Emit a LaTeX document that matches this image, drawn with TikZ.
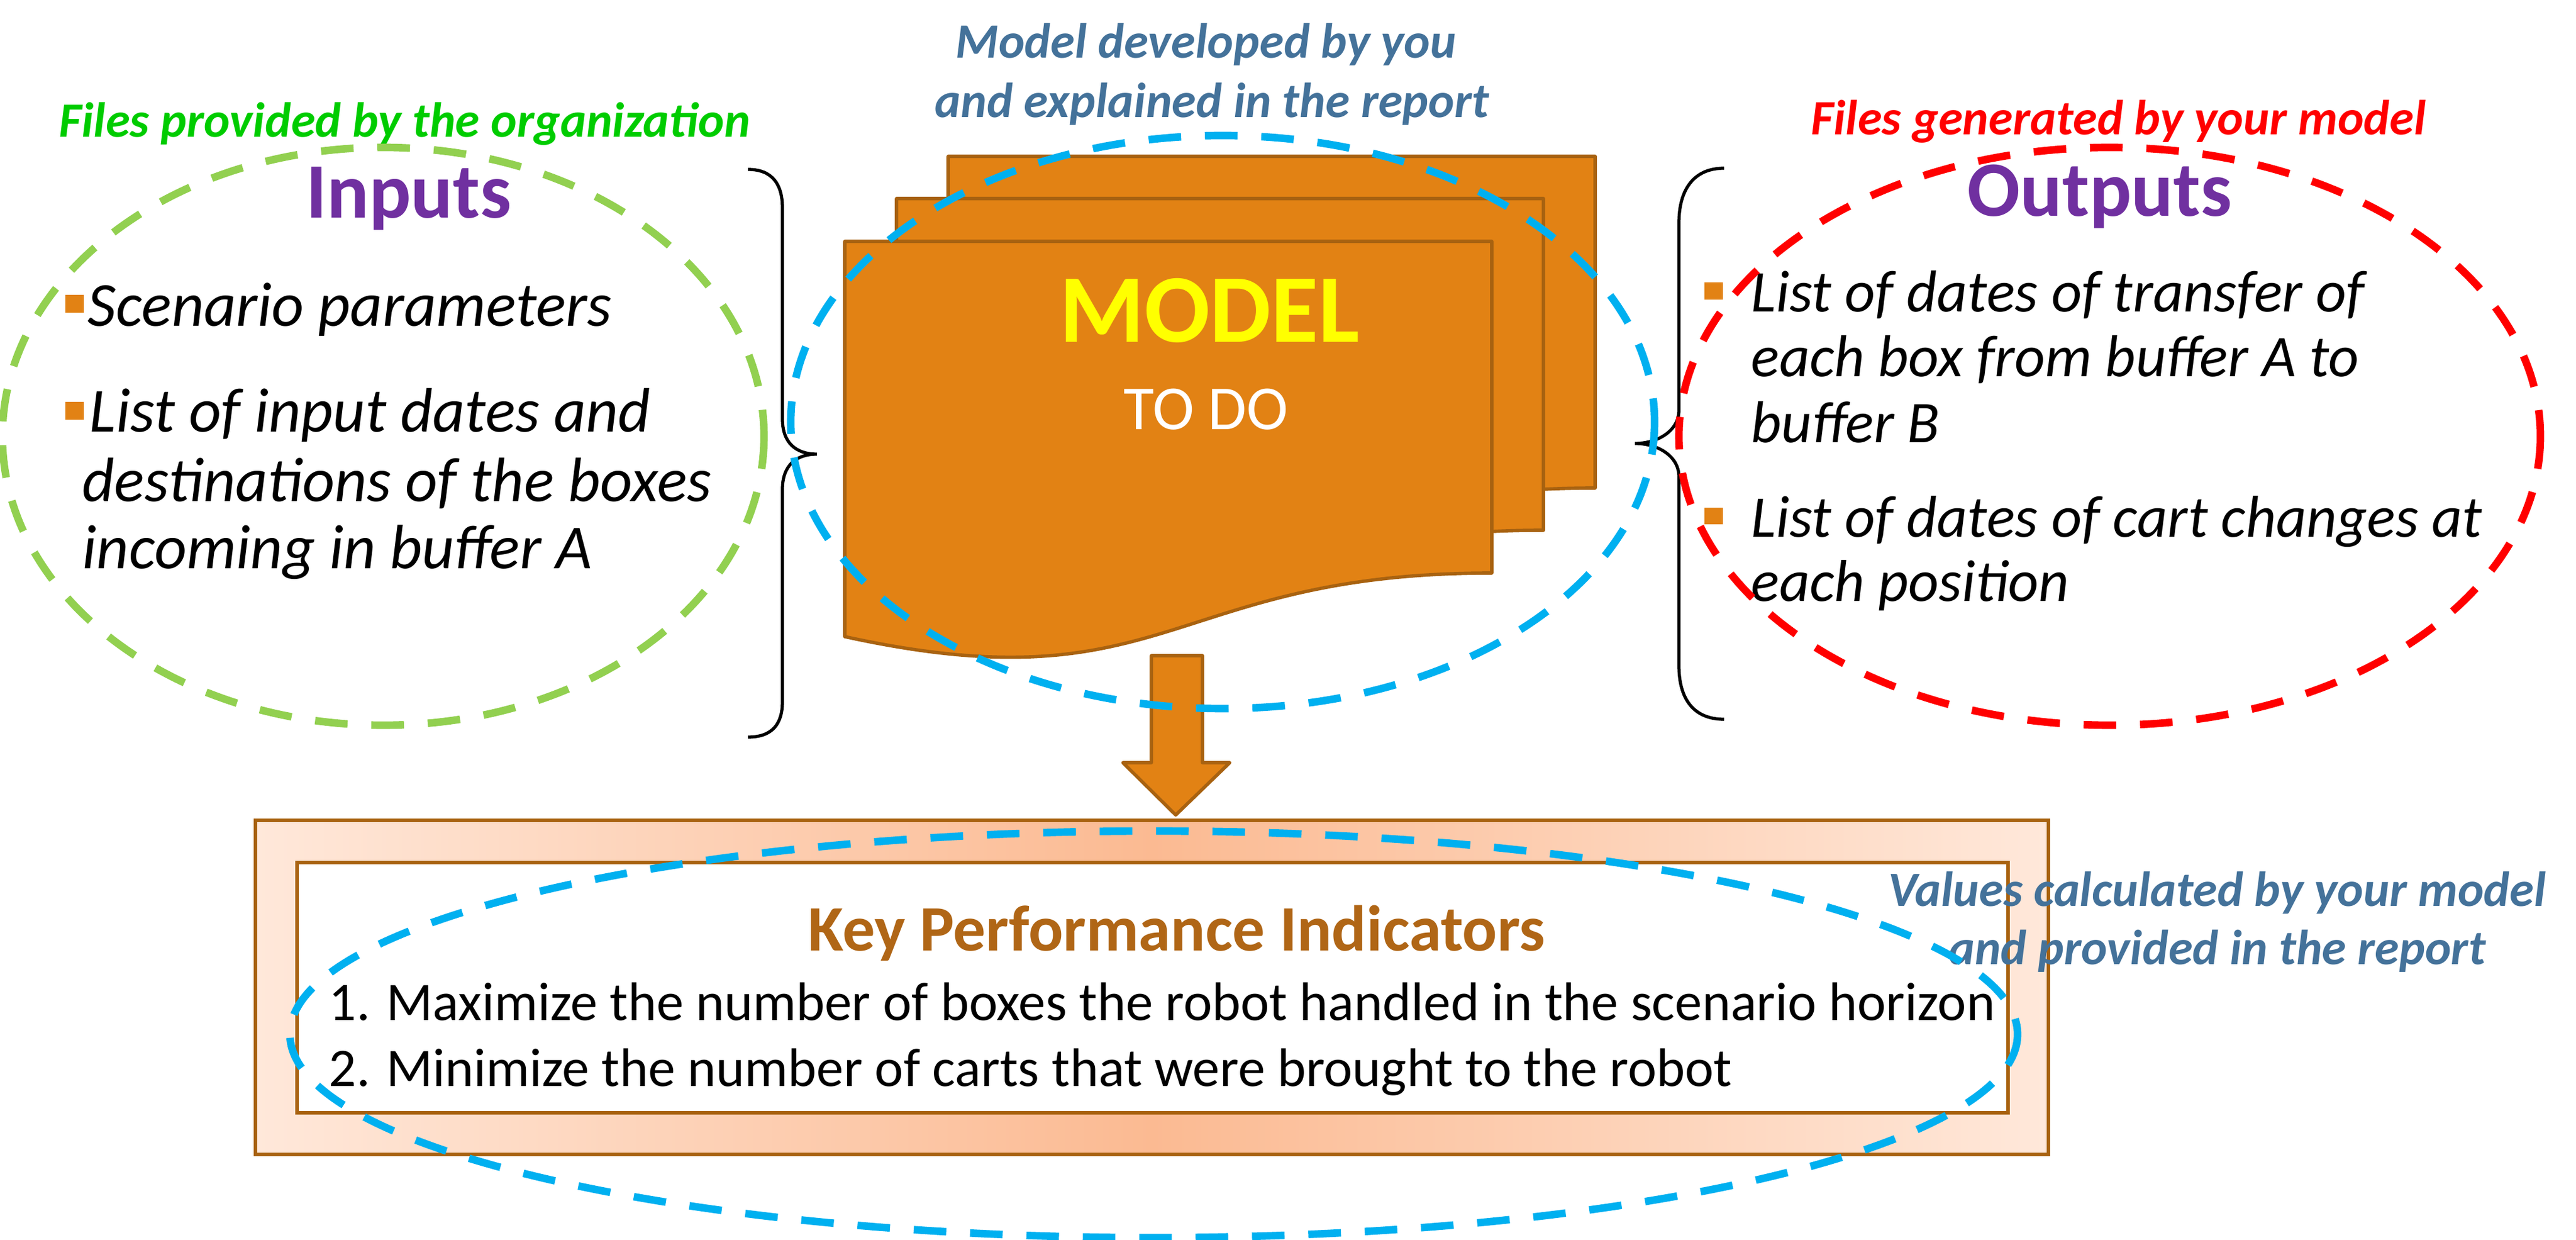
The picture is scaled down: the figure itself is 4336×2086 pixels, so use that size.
\documentclass[tikz,border=0pt]{standalone}
\usepackage{fontspec}
\setmainfont{Carlito}
\definecolor{orfill}{RGB}{226,130,20}
\definecolor{orline}{RGB}{168,98,16}
\definecolor{kpibrown}{RGB}{176,102,22}
\definecolor{ingreen}{RGB}{0,204,0}
\definecolor{elgreen}{RGB}{146,208,80}
\definecolor{elblue}{RGB}{0,176,240}
\definecolor{elred}{RGB}{255,0,0}
\definecolor{titpurple}{RGB}{112,48,160}
\definecolor{steel}{RGB}{68,114,154}
\definecolor{peachedge}{RGB}{255,232,218}
\definecolor{peachmid}{RGB}{251,186,146}
\newcommand{\fs}[1]{\fontsize{#1}{1.2\dimexpr#1pt\relax}\selectfont}
\tikzset{
  dashell/.style={line width=3.6pt, dash pattern=on 15.6pt off 11.4pt},
  page/.style={fill=orfill, draw=orline, line width=1.6pt, line join=round},
  note/.style={font=\fs{23.6}\bfseries\itshape, inner sep=0pt, anchor=base},
  heading/.style={font=\fs{37.5}\bfseries, text=titpurple, inner sep=0pt, anchor=base},
  intext/.style={font=\fs{30}\itshape, inner sep=0pt, anchor=base west},
  outtext/.style={font=\fs{28.3}\itshape, inner sep=0pt, anchor=base west},
  kpitext/.style={font=\fs{26}, inner sep=0pt, anchor=base west},
  bulletsq/.style={fill=orfill, draw=none},
  bracepath/.style={line width=1.5pt, draw=black},
}
\begin{document}
\begin{tikzpicture}[x=0.01cm, y=-0.01cm]
\useasboundingbox (0,0) rectangle (4336,2086);

% ---- stacked document pages ----
\foreach \dx/\dy [count=\i] in {174/-143, 87/-72, 0/0}{
  \begin{scope}[shift={(\dx,\dy)}]
    \draw[page] (1422,406) -- (2511,406) -- (2511,964)
      .. controls (1966,964) and (1966,1190) .. (1422,1071) -- cycle;
  \end{scope}
}
\node[font=\fs{46.5}\bfseries, text={rgb,255:red,255;green,255;blue,0}, inner sep=0pt, anchor=base] (model) at (2036,576) {MODEL};
\node[font=\fs{30}, text=white, inner sep=0pt, anchor=base] (todo) at (2030,723) {TO DO};

% ---- block arrow ----
\draw[page] (1938,1103) -- (2024,1103) -- (2024,1283) -- (2070,1283) -- (1979,1371)
  -- (1890,1283) -- (1938,1283) -- cycle;
\coordinate (arrowtip) at (1979,1371);

% ---- KPI box ----
\shade[left color=peachedge, right color=peachedge, middle color=peachmid] (430,1380) rectangle (3448,1942);
\draw[orline, line width=1.5pt] (430,1380) rectangle (3448,1942);
\draw[orline, line width=1.5pt, fill=white] (500,1451) rectangle (3380,1872);
\node[font=\fs{31}\bfseries, text=kpibrown, inner sep=0pt, anchor=base] (kpititle) at (1981,1599) {Key Performance Indicators};
\node[kpitext] (kpi1) at (553,1716) {1. Maximize the number of boxes the robot handled in the scenario horizon};
\node[kpitext] (kpi2) at (553,1827) {2. Minimize the number of carts that were brought to the robot};

% ---- annotations ----
\node[note, text=ingreen] (provided) at (681,231) {Files provided by the organization};
\node[note, text=steel] (dev1) at (2030,98) {Model developed by you};
\node[note, text=steel] (dev2) at (2040,198) {and explained in the report};
\node[note, text=elred] (generated) at (3566,227) {Files generated by your model};
\node[note, text=steel] (val1) at (3732,1524) {Values calculated by your model};
\node[note, text=steel] (val2) at (3732,1622) {and provided in the report};

% ---- inputs ----
\node[heading] (inputs) at (688,367) {Inputs};
\fill[bulletsq] (110,496) rectangle (141,526);
\fill[bulletsq] (110,676) rectangle (141,706);
\node[intext] (in1) at (147,549) {Scenario parameters};
\node[intext] (in2a) at (150,727) {List of input dates and};
\node[intext] (in2b) at (138,844) {destinations of the boxes};
\node[intext] (in2c) at (138,957) {incoming in buffer A};

% ---- outputs ----
\node[heading] (outputs) at (3534,364) {Outputs};
\fill[bulletsq] (2869,475) rectangle (2900,504);
\fill[bulletsq] (2869,854) rectangle (2900,882);
\node[outtext] (out1a) at (2947,525) {List of dates of transfer of};
\node[outtext] (out1b) at (2947,634) {each box from buffer A to};
\node[outtext] (out1c) at (2947,745) {buffer B};
\node[outtext] (out2a) at (2947,904) {List of dates of cart changes at};
\node[outtext] (out2b) at (2947,1012) {each position};

% ---- braces ----
\coordinate (lbtip) at (1375,764);
\coordinate (rbtip) at (2752,746);
\draw[bracepath] (1259,285) .. controls (1300,285) and (1317,310) .. (1317,350)
  -- (1317,705) .. controls (1317,745) and (1340,764) .. (lbtip)
  .. controls (1340,764) and (1317,783) .. (1317,823)
  -- (1317,1180) .. controls (1317,1218) and (1300,1240) .. (1259,1240);
\draw[bracepath] (2902,283) .. controls (2850,283) and (2826,320) .. (2826,375)
  -- (2826,690) .. controls (2826,725) and (2790,746) .. (rbtip)
  .. controls (2790,746) and (2826,767) .. (2826,802)
  -- (2826,1120) .. controls (2826,1175) and (2850,1210) .. (2902,1210);

% ---- dashed ellipses ----
\draw[dashell, elgreen] (645,734) ellipse [x radius=641, y radius=486];
\draw[dashell, elred] (3551,734) ellipse [x radius=725, y radius=486];
\draw[dashell, elblue] (2058,710) ellipse [x radius=727, y radius=482];
\draw[dashell, elblue] (1942,1740) ellipse [x radius=1454, y radius=342];
\end{tikzpicture}
\end{document}
